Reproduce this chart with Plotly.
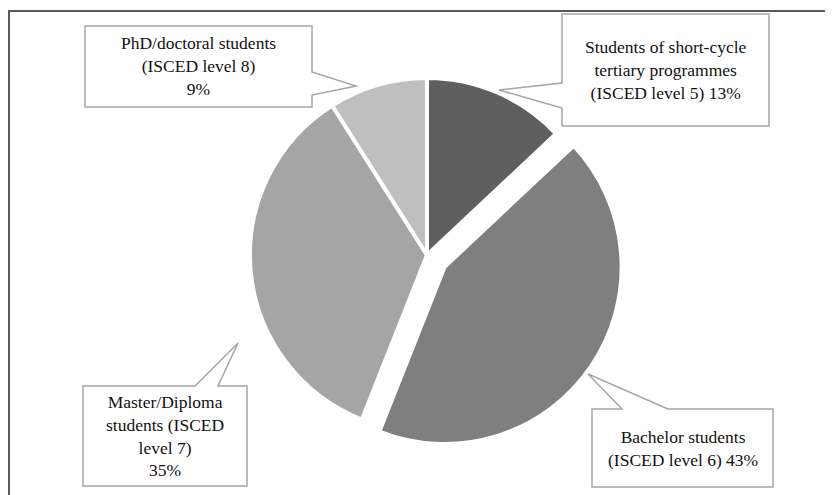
import plotly.graph_objects as go

W, H = 833, 495
OFF = 8  # page body margin

labels = [
    "Students of short-cycle tertiary programmes (ISCED level 5)",
    "Bachelor students (ISCED level 6)",
    "Master/Diploma students (ISCED level 7)",
    "PhD/doctoral students (ISCED level 8)",
]
values = [13, 43, 35, 9]
callout_texts = [
    "Students of short-cycle<br>tertiary programmes<br>(ISCED level 5) 13%",
    "Bachelor students<br>(ISCED level 6) 43%",
    "Master/Diploma<br>students (ISCED<br>level 7)<br>35%",
    "PhD/doctoral students<br>(ISCED level 8)<br>9%",
]
colors = ["#5f5f5f", "#7f7f7f", "#a5a5a5", "#bfbfbf"]
pulls = [0, 0.12, 0, 0]

# callout geometry in screen pixels: polygon outline and text centre
callouts = [
    ([(562, 14), (769, 14), (769, 126), (562, 126), (562, 108), (499, 90), (562, 83)], (665.5, 70)),
    ([(592, 409), (622, 409), (588, 374), (668, 409), (773, 409), (773, 487), (592, 487)], (682.5, 448)),
    ([(83, 386), (195, 386), (238, 343), (218, 386), (247, 386), (247, 486), (83, 486)], (165, 436)),
    ([(85, 26), (312, 26), (312, 72), (356, 86), (312, 95), (312, 107), (85, 107)], (198.5, 66)),
]


def px(x):
    return (x - OFF) / W


def py(y):
    return 1 - (y - OFF) / H


cx, cy, box = 427, 255, 396.6
fig = go.Figure()
fig.add_trace(go.Pie(
    labels=labels,
    values=values,
    sort=False,
    direction="clockwise",
    rotation=0,
    pull=pulls,
    marker=dict(colors=colors, line=dict(color="white", width=4)),
    textinfo="none",
    hoverinfo="skip",
    showlegend=False,
    domain=dict(x=[px(cx - 300), px(cx + 300)], y=[py(cy + box / 2), py(cy - box / 2)]),
))

shapes = [
    dict(type="line", xref="paper", yref="paper", x0=px(9), x1=px(9), y0=py(10), y1=py(H + 20),
         line=dict(color="#595959", width=2)),
    dict(type="line", xref="paper", yref="paper", x0=px(8), x1=px(W + 20), y0=py(11), y1=py(11),
         line=dict(color="#595959", width=2)),
]
annotations = []
for (poly, (tx, ty)), txt in zip(callouts, callout_texts):
    path = "M " + " L ".join(f"{px(x):.5f},{py(y):.5f}" for x, y in poly) + " Z"
    shapes.append(dict(type="path", xref="paper", yref="paper", path=path,
                       fillcolor="white", line=dict(color="#a6a6a6", width=1.5), layer="above"))
    annotations.append(dict(x=px(tx), y=py(ty), xref="paper", yref="paper", text=txt,
                            showarrow=False, xanchor="center", yanchor="middle", align="center",
                            font=dict(family="Liberation Serif", size=17.5, color="#111111")))

fig.update_layout(
    width=W, height=H,
    margin=dict(l=0, r=0, t=0, b=0),
    paper_bgcolor="white",
    plot_bgcolor="white",
    shapes=shapes,
    annotations=annotations,
)

fig.write_html("out.html")
